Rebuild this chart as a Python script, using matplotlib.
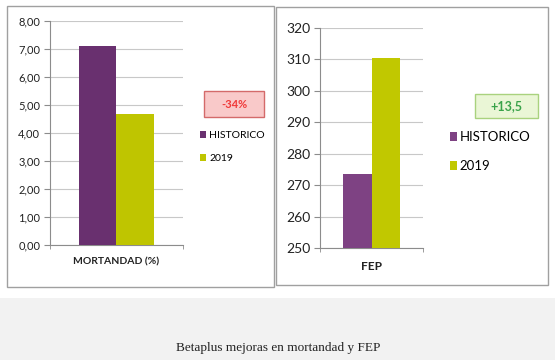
import matplotlib.pyplot as plt
from matplotlib.patches import Rectangle

series = ['HISTORICO', '2019']
mort = [7.12, 4.68]
fep = [273.5, 310.4]
mort_ticks = [0, 1, 2, 3, 4, 5, 6, 7, 8]
fep_ticks = [250, 260, 270, 280, 290, 300, 310, 320]
caption = 'Betaplus mejoras en mortandad y FEP'

W, H = 555, 360
fig = plt.figure(figsize=(W / 100, H / 100), dpi=100)
fig.patch.set_facecolor('white')


def fbox(x0, y0, x1, y1):
    # pixel box (top-left origin) -> figure fraction rect
    return [x0 / W, 1 - y1 / H, (x1 - x0) / W, (y1 - y0) / H]


def frect(x0, y0, x1, y1, **kw):
    r = fbox(x0, y0, x1, y1)
    fig.patches.append(Rectangle((r[0], r[1]), r[2], r[3], transform=fig.transFigure, **kw))


# gray strip under the charts + caption
frect(0, 298, 555, 360, facecolor='#f2f2f2', edgecolor='none', zorder=-2)
fig.text(278 / W, 1 - 348 / H, caption, ha='center', va='center',
         family='Liberation Serif', fontsize=9.5, color='#222222')

# panel frames
frect(7, 6, 274, 287, facecolor='white', edgecolor='#a0a0a0', lw=1.0, zorder=-1)
frect(276, 7, 548, 285, facecolor='white', edgecolor='#a0a0a0', lw=1.0, zorder=-1)


def setup(ax, ticks, labels, fs, xlabel, xfs):
    for s in ['top', 'right']:
        ax.spines[s].set_visible(False)
    ax.spines['left'].set_color('#8c8c8c')
    ax.spines['bottom'].set_color('#8c8c8c')
    ax.set_yticks(ticks)
    ax.set_yticklabels(labels, fontsize=fs, family='Lato', color='#222222')
    ax.set_ylim(ticks[0], ticks[-1])
    ax.set_xlim(-1, 1)
    ax.set_xticks([0])
    ax.set_xticklabels([xlabel], fontsize=xfs, family='Lato', fontweight='bold', color='#222222')
    ax.tick_params(axis='x', length=0, pad=9)
    ax.set_xticks([-1, 1], minor=True)
    ax.tick_params(axis='x', which='minor', length=3, color='#8c8c8c')
    ax.tick_params(axis='y', length=4, color='#8c8c8c', pad=3)
    ax.yaxis.grid(True, color='#c8c8c8', lw=0.8)
    ax.set_axisbelow(True)
    ax.patch.set_alpha(0)


w = 0.56
ax1 = fig.add_axes(fbox(50, 21, 183, 245))
b1 = ax1.bar([-w / 2, w / 2], mort, width=w, color=['#69306f', '#bfc500'], zorder=3)
setup(ax1, mort_ticks, [('%.2f' % t).replace('.', ',') for t in mort_ticks], 8,
      'MORTANDAD (%)', 7.5)
ax1.legend([b1[0], b1[1]], series, loc='upper left', bbox_to_anchor=(191 / W, 1 - 122 / H),
           bbox_transform=fig.transFigure, frameon=False, prop={'family': 'Lato', 'size': 7.5},
           handlelength=0.55, handleheight=0.6, handletextpad=0.3, labelspacing=1.3)

w2 = 0.555
ax2 = fig.add_axes(fbox(320, 28, 423, 248))
b2 = ax2.bar([-w2 / 2, w2 / 2], fep, width=w2, color=['#7e4283', '#c1c800'], zorder=3)
setup(ax2, fep_ticks, [str(t) for t in fep_ticks], 10, 'FEP', 8.5)
ax2.legend([b2[0], b2[1]], series, loc='upper left', bbox_to_anchor=(438 / W, 1 - 119 / H),
           bbox_transform=fig.transFigure, frameon=False, prop={'family': 'Lato', 'size': 9.5},
           handlelength=0.55, handleheight=0.7, handletextpad=0.2, labelspacing=1.3)

# change boxes
frect(204, 91, 264, 117, facecolor='#f9c9c9', edgecolor='#d46a6a', lw=1.0, zorder=5)
fig.text(234 / W, 1 - 104 / H, '-34%', ha='center', va='center', family='Lato',
         fontweight='bold', fontsize=8, color='#f03a3a', zorder=6)
frect(475, 94, 538, 118, facecolor='#eaf6d6', edgecolor='#a9d27e', lw=1.0, zorder=5)
fig.text(506 / W, 1 - 106 / H, '+13,5', ha='center', va='center', family='Lato',
         fontweight='bold', fontsize=9, color='#3aa34a', zorder=6)

fig.savefig('out.png', dpi=100)
